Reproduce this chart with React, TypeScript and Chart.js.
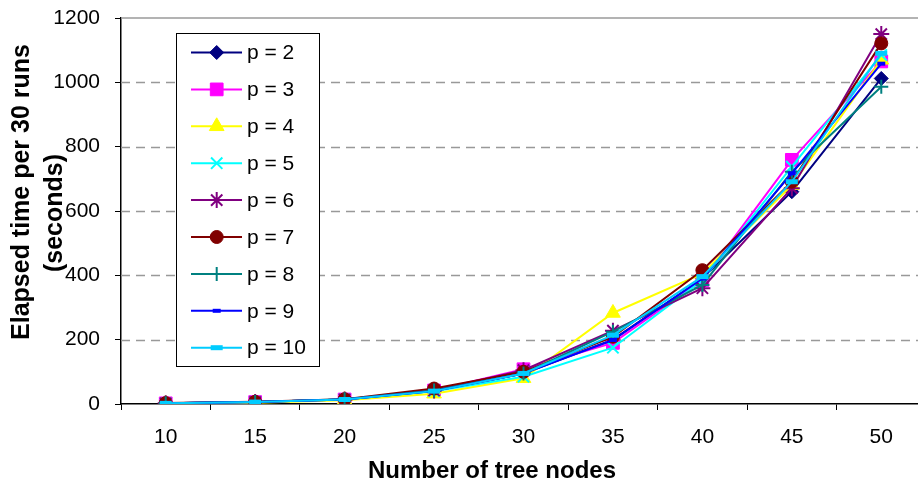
import React, { useEffect, useRef } from "react";
import { Chart, registerables } from "chart.js";
import { drawPoint } from "chart.js/helpers";

Chart.register(...registerables);

const categories = ["10", "15", "20", "25", "30", "35", "40", "45", "50"];
const seriesLabels = ["p = 2", "p = 3", "p = 4", "p = 5", "p = 6", "p = 7", "p = 8", "p = 9", "p = 10"];
const p2 = [2, 6, 14, 40, 95, 200, 390, 660, 1012];
const p3 = [2, 6, 14, 42, 108, 190, 385, 759, 1065];
const p4 = [1, 4, 12, 32, 80, 283, 405, 680, 1070];
const p5 = [2, 6, 14, 40, 85, 175, 385, 738, 1085];
const p6 = [2, 6, 14, 42, 105, 228, 360, 671, 1150];
const p7 = [3, 7, 15, 48, 100, 209, 416, 691, 1121];
const p8 = [2, 6, 15, 42, 95, 225, 370, 722, 986];
const p9 = [2, 6, 14, 40, 95, 199, 390, 717, 1058];
const p10 = [2, 6, 14, 40, 95, 214, 396, 691, 1090];
const seriesValues = [p2, p3, p4, p5, p6, p7, p8, p9, p10];
const yTicks = [0, 200, 400, 600, 800, 1000, 1200];

const colors = ["#000080", "#FF00FF", "#FFFF00", "#00FFFF", "#800080", "#800000", "#008080", "#0000FF", "#00CCFF"];
const styles = ["rectRot", "rect", "triangle", "crossRot", "star", "circle", "cross", "line", "line"];
const radii = [7, 9, 8.5, 8, 8, 6.5, 7, 4, 6];
const borderWidths = [1, 1, 1, 2, 2, 1, 2, 4, 5];

const FONT = "'Liberation Sans', Arial, sans-serif";

const decorPlugin = {
  id: "decor",
  beforeDatasetsDraw(chart: any) {
    const { ctx, chartArea } = chart;
    const y = chart.scales.y;
    ctx.save();
    ctx.strokeStyle = "#999999";
    ctx.lineWidth = 1.5;
    ctx.setLineDash([9, 6]);
    for (const v of yTicks) {
      if (v === 0 || v === 1200) continue;
      const py = Math.round(y.getPixelForValue(v)) + 0.5;
      ctx.beginPath();
      ctx.moveTo(chartArea.left, py);
      ctx.lineTo(chartArea.right, py);
      ctx.stroke();
    }
    ctx.setLineDash([]);
    ctx.strokeStyle = "#9a9a9a";
    ctx.lineWidth = 1.5;
    const top = y.getPixelForValue(1200);
    ctx.beginPath();
    ctx.moveTo(chartArea.left, top);
    ctx.lineTo(chartArea.right, top);
    ctx.lineTo(chartArea.right, chartArea.bottom);
    ctx.stroke();
    ctx.restore();
  },
  afterDraw(chart: any) {
    const { ctx } = chart;
    ctx.save();
    // axis titles
    ctx.fillStyle = "#000";
    ctx.font = `bold 24px ${FONT}`;
    ctx.textAlign = "center";
    ctx.textBaseline = "middle";
    ctx.fillText("Number of tree nodes", 492, 471);
    ctx.font = `bold 25px ${FONT}`;
    ctx.save();
    ctx.translate(22, 192);
    ctx.rotate(-Math.PI / 2);
    ctx.fillText("Elapsed time per 30 runs", 0, 0);
    ctx.restore();
    ctx.save();
    ctx.translate(55, 213);
    ctx.rotate(-Math.PI / 2);
    ctx.fillText("(seconds)", 0, 0);
    ctx.restore();

    // legend
    const bx = 176.5, by = 33.5, bw = 143, bh = 333;
    ctx.fillStyle = "#fff";
    ctx.fillRect(bx, by, bw, bh);
    ctx.strokeStyle = "#000";
    ctx.lineWidth = 1;
    ctx.strokeRect(bx, by, bw, bh);
    ctx.font = `21px ${FONT}`;
    ctx.textAlign = "left";
    chart.data.datasets.forEach((ds: any, i: number) => {
      const iy = 52.5 + i * 36.9;
      ctx.strokeStyle = ds.borderColor;
      ctx.lineWidth = 2;
      ctx.beginPath();
      ctx.moveTo(191, iy);
      ctx.lineTo(242, iy);
      ctx.stroke();
      ctx.fillStyle = ds.pointBackgroundColor;
      ctx.strokeStyle = ds.pointBorderColor;
      ctx.lineWidth = ds.pointBorderWidth;
      drawPoint(ctx, { pointStyle: ds.pointStyle, rotation: 0, radius: ds.pointRadius, borderWidth: ds.pointBorderWidth }, 216.7, iy);
      ctx.fillStyle = "#000";
      ctx.fillText(seriesLabels[i], 247, iy + 1);
    });
    ctx.restore();
  },
};

export default function App() {
  const ref = useRef<HTMLCanvasElement>(null);
  useEffect(() => {
    if (!ref.current) return;
    const chart = new Chart(ref.current, {
      type: "line",
      data: {
        labels: categories,
        datasets: seriesValues.map((vals, i) => ({
          label: seriesLabels[i],
          data: vals,
          borderColor: colors[i],
          backgroundColor: colors[i],
          pointBackgroundColor: colors[i],
          pointBorderColor: colors[i],
          pointStyle: styles[i] as any,
          pointRadius: radii[i],
          pointBorderWidth: borderWidths[i],
          borderWidth: 2,
          tension: 0,
          fill: false,
          order: 8 - i,
        })),
      },
      options: {
        responsive: false,
        animation: false,
        devicePixelRatio: 1,
        layout: { padding: { left: 0, right: 14, top: 18, bottom: 0 } },
        plugins: { legend: { display: false }, tooltip: { enabled: false } },
        scales: {
          x: {
            type: "category",
            offset: true,
            grid: { offset: true, drawOnChartArea: false, drawTicks: true, tickLength: 6, color: "#000", tickWidth: 1 },
            border: { color: "#000", width: 1.5 },
            ticks: { color: "#000", font: { family: FONT, size: 21 }, padding: 15, maxRotation: 0, autoSkip: false },
            afterFit: (s: any) => { s.height = 79; s.paddingLeft = 0; s.paddingRight = 0; },
          },
          y: {
            min: 0,
            max: 1200,
            afterBuildTicks: (s: any) => { s.ticks = yTicks.map((v) => ({ value: v })); },
            grid: { drawOnChartArea: false, drawTicks: true, tickLength: 6, color: "#000", tickWidth: 1 },
            border: { color: "#000", width: 1.5 },
            ticks: { color: "#000", font: { family: FONT, size: 21 }, padding: 15, callback: (v: any) => String(v) },
            afterFit: (s: any) => { s.width = 121; s.paddingTop = 0; s.paddingBottom = 0; },
          },
        },
      },
      plugins: [decorPlugin],
    });
    return () => chart.destroy();
  }, []);
  return (
    <div style={{ position: "fixed", left: 0, top: 0, width: 918, height: 483, overflow: "hidden", background: "#fff" }}>
      <canvas ref={ref} width={940} height={483} style={{ display: "block", width: 940, height: 483 }} />
    </div>
  );
}
